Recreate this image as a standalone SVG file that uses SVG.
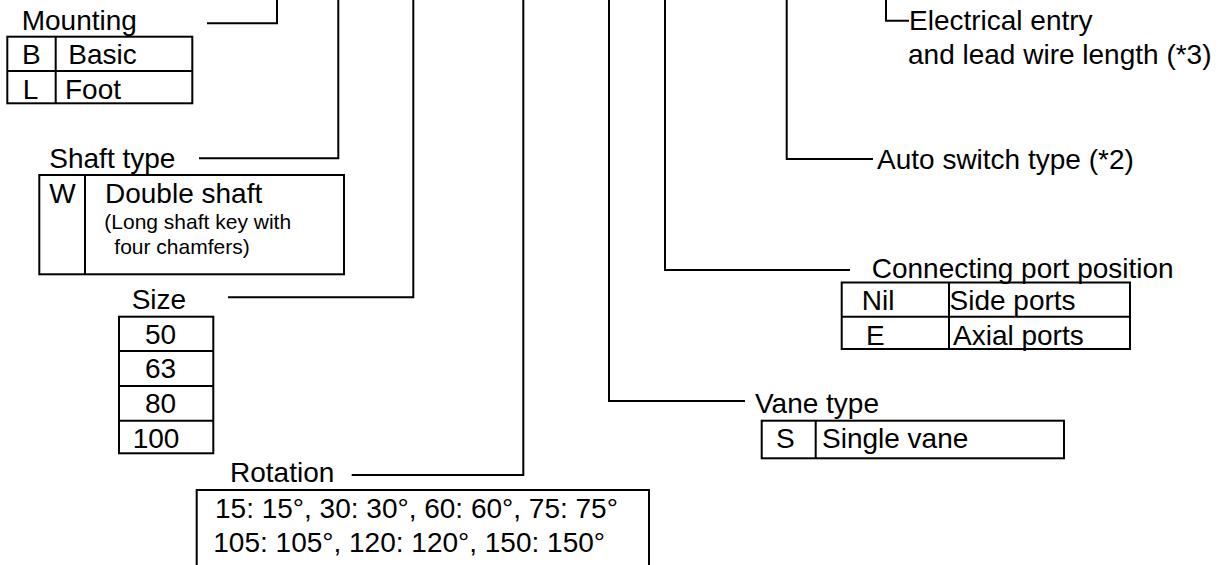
<svg xmlns="http://www.w3.org/2000/svg" width="1225" height="565" viewBox="0 0 1225 565">
<style>
.t{font-family:"Liberation Sans",Arial,Helvetica,sans-serif;font-size:28px;fill:#000}
.s{font-family:"Liberation Sans",Arial,Helvetica,sans-serif;font-size:21px;fill:#000}
.b{fill:none;stroke:#000;stroke-width:2}
.c{fill:none;stroke:#000;stroke-width:2}
</style>
<rect x="0" y="0" width="1225" height="565" fill="#fff"/>
<g id="connectors">
<path class="c" d="M207 23.3 H277 V0"/>
<path class="c" d="M199 158.3 H338.3 V0"/>
<path class="c" d="M228 297.3 H413.3 V0"/>
<path class="c" d="M351.7 475 H523.3 V0"/>
<path class="c" d="M745 401 H609 V0"/>
<path class="c" d="M850 270 H665 V0"/>
<path class="c" d="M873 159 H786.7 V0"/>
<path class="c" d="M909 20.7 H886 V0"/>
</g>
<g id="mounting">
<text class="t" x="21.7" y="30">Mounting</text>
<rect class="b" x="7.3" y="36.7" width="185" height="66.6"/>
<path class="b" d="M7.3 71 H192.3 M55.7 36.7 V103.3"/>
<text class="t" x="22" y="64">B</text>
<text class="t" x="68.3" y="64">Basic</text>
<text class="t" x="22.7" y="99.3">L</text>
<text class="t" x="65" y="99.3">Foot</text>
</g>
<g id="shaft-type">
<text class="t" x="49.3" y="168">Shaft type</text>
<rect class="b" x="39.3" y="175" width="304.7" height="99.3"/>
<path class="b" d="M85 175 V274.3"/>
<text class="t" x="49.3" y="203">W</text>
<text class="t" x="105" y="203">Double shaft</text>
<text class="s" x="104.3" y="229.3">(Long shaft key with</text>
<text class="s" x="114.3" y="253.5">four chamfers)</text>
</g>
<g id="size">
<text class="t" x="131.7" y="309">Size</text>
<rect class="b" x="119" y="316.7" width="94.3" height="136.6"/>
<path class="b" d="M119 351 H213.3 M119 386 H213.3 M119 420.7 H213.3"/>
<text class="t" x="145" y="344.3">50</text>
<text class="t" x="145" y="378.3">63</text>
<text class="t" x="145" y="413.3">80</text>
<text class="t" x="132.7" y="448.3">100</text>
</g>
<g id="rotation">
<text class="t" x="230" y="482.3">Rotation</text>
<rect class="b" x="196.7" y="490" width="452.3" height="120"/>
<text class="t" x="215" y="518.3">15: 15°, 30: 30°, 60: 60°, 75: 75°</text>
<text class="t" x="213.3" y="551.7">105: 105°, 120: 120°, 150: 150°</text>
</g>
<g id="vane-type">
<text class="t" x="755" y="413">Vane type</text>
<rect class="b" x="761.7" y="420.7" width="302.3" height="37.6"/>
<path class="b" d="M815.7 420.7 V458.3"/>
<text class="t" x="776" y="448">S</text>
<text class="t" x="822" y="448">Single vane</text>
</g>
<g id="port-position">
<text class="t" x="871.7" y="278">Connecting port position</text>
<rect class="b" x="841.7" y="282.5" width="288.3" height="66.5"/>
<path class="b" d="M841.7 316.7 H1130 M949 282.5 V349"/>
<text class="t" x="861.7" y="310">Nil</text>
<text class="t" x="949.5" y="310">Side ports</text>
<text class="t" x="866" y="345">E</text>
<text class="t" x="953" y="345">Axial ports</text>
</g>
<g id="auto-switch">
<text class="t" x="877" y="169">Auto switch type (*2)</text>
</g>
<g id="electrical-entry">
<text class="t" x="909" y="30">Electrical entry</text>
<text class="t" x="908" y="64">and lead wire length (*3)</text>
</g>
</svg>
